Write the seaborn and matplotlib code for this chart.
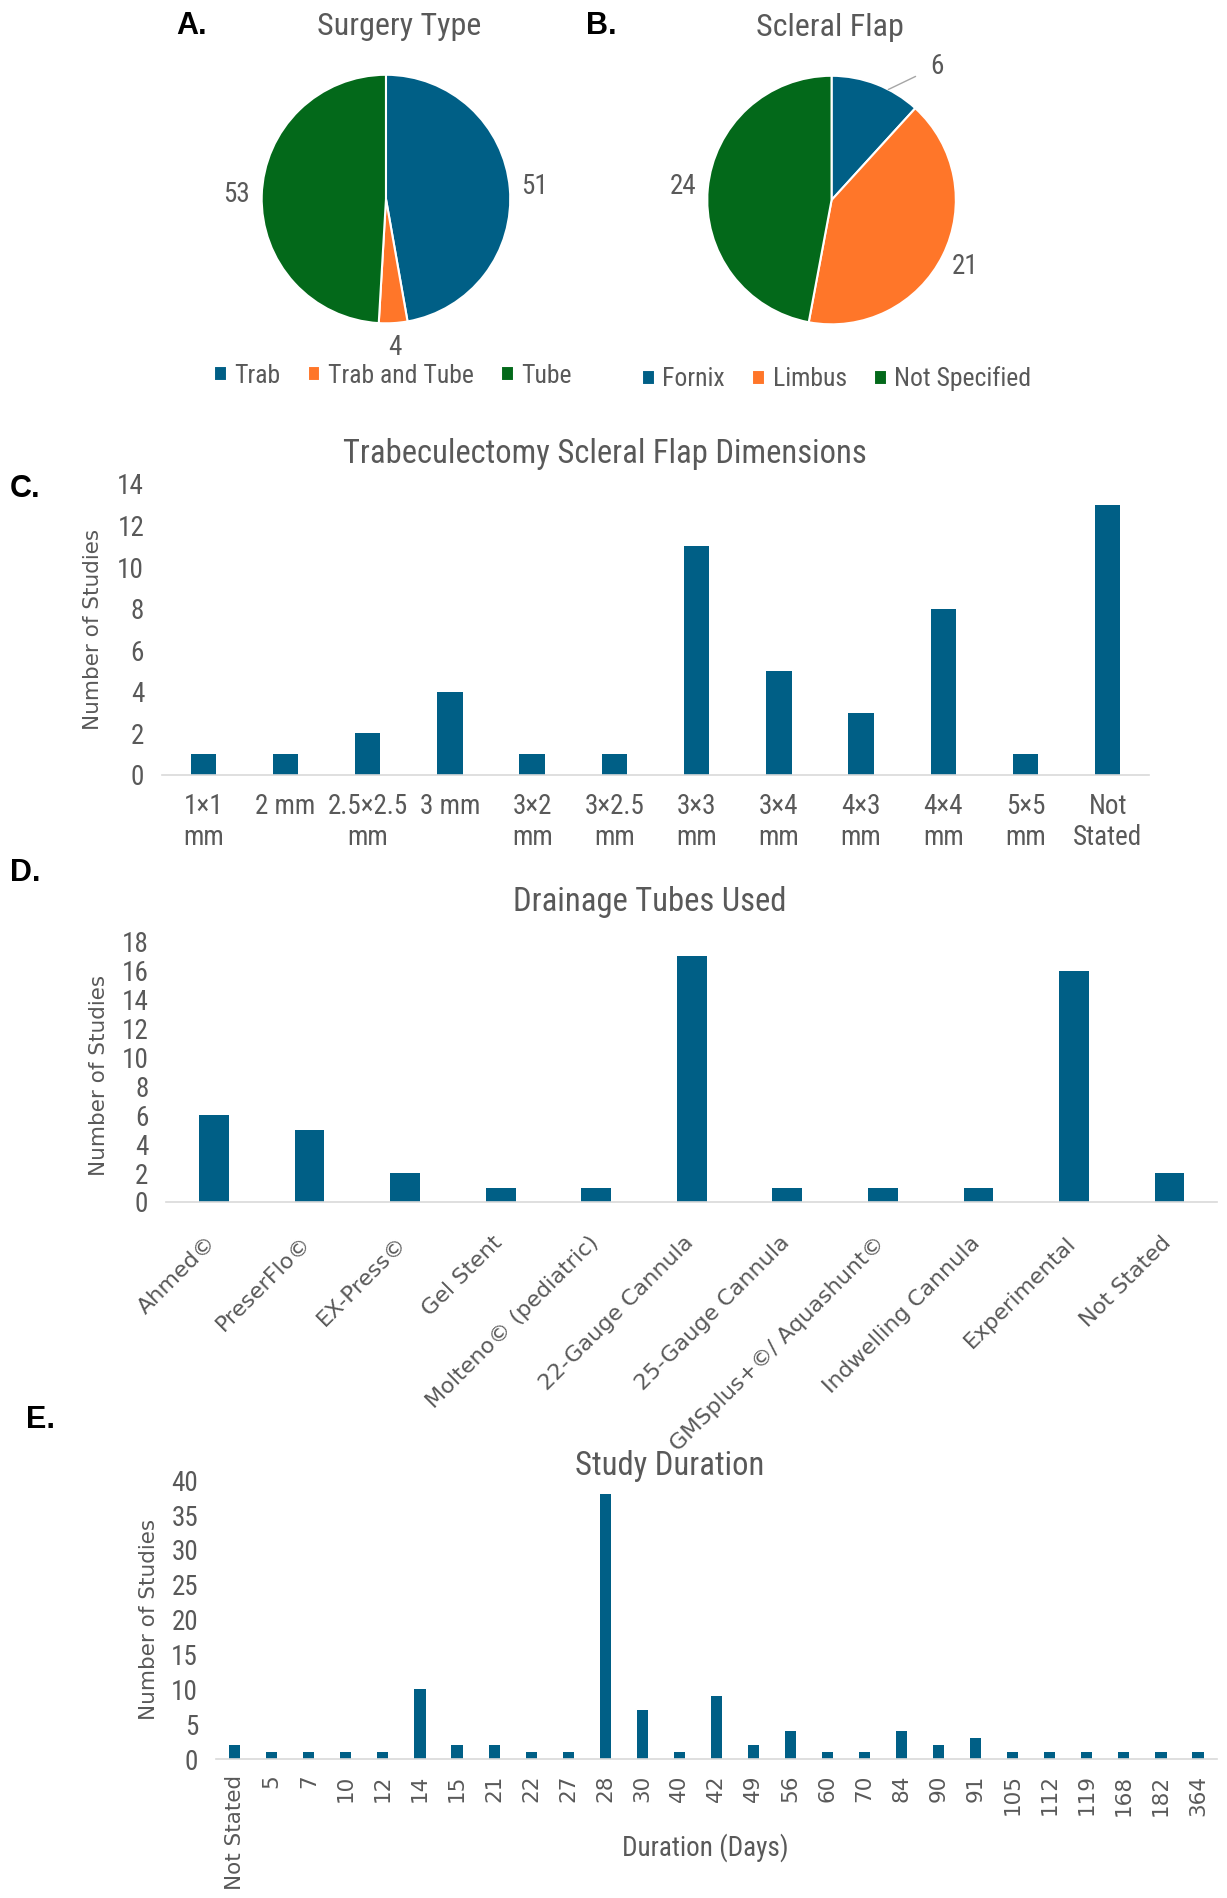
import numpy as np
import matplotlib
matplotlib.use("Agg")
import matplotlib.pyplot as plt
import matplotlib.transforms as mtransforms
import seaborn as sns

# pie A
surgery_labels = ["Trab", "Trab and Tube", "Tube"]
surgery_counts = [51, 4, 53]

# pie B
flap_labels = ["Fornix", "Limbus", "Not Specified"]
flap_counts = [6, 21, 24]

# bar C
dim_labels = ["1×1\nmm", "2 mm", "2.5×2.5\nmm", "3 mm", "3×2\nmm", "3×2.5\nmm",
              "3×3\nmm", "3×4\nmm", "4×3\nmm", "4×4\nmm", "5×5\nmm", "Not\nStated"]
dim_counts = [1, 1, 2, 4, 1, 1, 11, 5, 3, 8, 1, 13]

# bar D
tube_labels = ["Ahmed©", "PreserFlo©", "EX-Press©", "Gel Stent", "Molteno© (pediatric)",
               "22-Gauge Cannula", "25-Gauge Cannula", "GMSplus+©/ Aquashunt©",
               "Indwelling Cannula", "Experimental", "Not Stated"]
tube_counts = [6, 5, 2, 1, 1, 17, 1, 1, 1, 16, 2]

# bar E
duration_labels = ["Not Stated", "5", "7", "10", "12", "14", "15", "21", "22", "27", "28",
                   "30", "40", "42", "49", "56", "60", "70", "84", "90", "91", "105",
                   "112", "119", "168", "182", "364"]
duration_counts = [2, 1, 1, 1, 1, 10, 2, 2, 1, 1, 38, 7, 1, 9, 2, 4, 1, 1, 4, 2, 3,
                   1, 1, 1, 1, 1, 1]

BLUE = "#005f86"
ORANGE = "#ff7629"
GREEN = "#03691a"
GREY = "#595959"
AXLINE = "#d9d9d9"

sns.set_theme(style="white")
NARROW = ["Liberation Sans Narrow", "Roboto Condensed", "DejaVu Sans Condensed", "Roboto",
          "DejaVu Sans"]
WIDE = ["DejaVu Sans"]
plt.rcParams["font.family"] = NARROW
plt.rcParams["text.color"] = GREY

fig = plt.figure(figsize=(12.27, 18.98), dpi=100)
W, H = 1227.0, 1898.0
S = 1.0104  # layout measurements were taken on a slightly scaled view


def rect(left, top, right, bottom):
    return [left * S / W, 1 - bottom * S / H, (right - left) * S / W, (bottom - top) * S / H]


def fpos(x, y):
    return x * S / W, 1 - y * S / H


def pol(a, r):
    t = np.radians(90 - a)
    return r * np.cos(t), r * np.sin(t)


def draw_pie(ax, counts, colors):
    wedges, _ = ax.pie(counts, colors=colors, startangle=90, counterclock=False,
                       radius=1, wedgeprops=dict(edgecolor="white", linewidth=1.5))
    ax.set_xlim(-1, 1)
    ax.set_ylim(-1, 1)
    ax.set_aspect("equal")
    ax.axis("off")
    ends = np.cumsum(counts) / np.sum(counts) * 360
    starts = ends - np.array(counts) / np.sum(counts) * 360
    return wedges, (starts + ends) / 2


def pie_legend(ax, wedges, labels, cx, cy):
    ax.legend(wedges, labels, loc="center", bbox_to_anchor=fpos(cx, cy),
              bbox_transform=fig.transFigure, ncol=3, frameon=False, fontsize=18.5,
              handlelength=0.5, handleheight=0.5, handletextpad=0.3,
              columnspacing=1.05, labelcolor=GREY)


# ---- A
axA = fig.add_axes(rect(259, 74, 505, 320))
wA, midA = draw_pie(axA, surgery_counts, [BLUE, ORANGE, GREEN])
for m, v in zip(midA, surgery_counts):
    x, y = pol(m, 1.2)
    axA.text(x, y, str(v), ha="center", va="center", fontsize=19.5, color=GREY, clip_on=False)
pie_legend(axA, wA, surgery_labels, 389, 372)

# ---- B
axB = fig.add_axes(rect(700, 75, 946, 321))
wB, midB = draw_pie(axB, flap_counts, [BLUE, ORANGE, GREEN])
for i, (m, v) in enumerate(zip(midB, flap_counts)):
    if i == 0:
        axB.annotate(str(v), xy=pol(m + 6, 1.0), xytext=pol(m + 17, 1.37),
                     ha="center", va="center", fontsize=19.5, color=GREY,
                     arrowprops=dict(arrowstyle="-", color="#a6a6a6", lw=1,
                                     shrinkA=9, shrinkB=0), annotation_clip=False)
    else:
        x, y = pol(m, 1.2)
        axB.text(x, y, str(v), ha="center", va="center", fontsize=19.5, color=GREY, clip_on=False)
pie_legend(axB, wB, flap_labels, 828, 375)

fig.text(*fpos(395, 26), "Surgery Type", ha="center", va="center", fontsize=23, color=GREY)
fig.text(*fpos(821, 27), "Scleral Flap", ha="center", va="center", fontsize=23, color=GREY)

letter_kw = dict(ha="left", va="center", fontsize=22, fontweight="bold", color="black",
                 family=["Liberation Sans", "DejaVu Sans"])
fig.text(*fpos(174, 26), "A.", **letter_kw)
fig.text(*fpos(580, 26), "B.", **letter_kw)
fig.text(*fpos(10, 484), "C.", **letter_kw)
fig.text(*fpos(10, 864), "D.", **letter_kw)
fig.text(*fpos(26, 1405), "E.", **letter_kw)


def style_bar(ax, ymax, step):
    ax.set_ylim(0, ymax)
    ax.set_yticks(np.arange(0, ymax + 0.1, step))
    for s in ["top", "right", "left"]:
        ax.spines[s].set_visible(False)
    ax.spines["bottom"].set_color(AXLINE)
    ax.spines["bottom"].set_linewidth(1.2)
    ax.tick_params(axis="both", length=0, colors=GREY)
    ax.tick_params(axis="y", labelsize=19.5, pad=13)
    ax.set_xlabel("")
    ax.set_ylabel("")
    ax.grid(False)


ylab_kw = dict(rotation=90, ha="center", va="center", fontsize=15.5, color=GREY, family=WIDE)

# ---- C
axC = fig.add_axes(rect(160.5, 479, 1137, 767))
sns.barplot(x=dim_labels, y=dim_counts, order=dim_labels, color=BLUE, saturation=1,
            width=0.31, linewidth=0, ax=axC)
axC.set_xlim(-0.5, len(dim_labels) - 0.5)
style_bar(axC, 14, 2)
axC.tick_params(axis="x", labelsize=19.5, pad=13)
for t in axC.get_xticklabels():
    t.set_linespacing(1.2)
fig.text(*fpos(599, 449), "Trabeculectomy Scleral Flap Dimensions", ha="center",
         va="center", fontsize=23.5, color=GREY)
fig.text(*fpos(92, 623), "Number of Studies", **ylab_kw)

# ---- D
axD = fig.add_axes(rect(164.7, 932, 1204.6, 1189.6))
sns.barplot(x=tube_labels, y=tube_counts, order=tube_labels, color=BLUE, saturation=1,
            width=0.31, linewidth=0, ax=axD)
axD.set_xlim(-0.5, len(tube_labels) - 0.5)
style_bar(axD, 18, 2)
axD.set_xticks(range(len(tube_labels)))
axD.set_xticklabels(tube_labels, rotation=45, ha="right", rotation_mode="anchor",
                    fontsize=16, family=WIDE, color=GREY)
axD.tick_params(axis="x", pad=22)
shift = mtransforms.ScaledTranslation(-6 / 72, 0, fig.dpi_scale_trans)
for t in axD.get_xticklabels():
    t.set_transform(t.get_transform() + shift)
fig.text(*fpos(643, 893), "Drainage Tubes Used", ha="center", va="center",
         fontsize=23.5, color=GREY)
fig.text(*fpos(98, 1064), "Number of Studies", **ylab_kw)

# ---- E
axE = fig.add_axes(rect(214, 1465, 1204, 1741))
sns.barplot(x=duration_labels, y=duration_counts, order=duration_labels, color=BLUE,
            saturation=1, width=0.3, linewidth=0, ax=axE)
axE.set_xlim(-0.5, len(duration_labels) - 0.5)
style_bar(axE, 40, 5)
axE.set_xticks(range(len(duration_labels)))
axE.set_xticklabels(duration_labels, rotation=90, ha="center", va="top",
                    fontsize=15.5, family=WIDE, color=GREY)
axE.tick_params(axis="x", pad=11)
fig.text(*fpos(663, 1451), "Study Duration", ha="center", va="center",
         fontsize=23.5, color=GREY)
fig.text(*fpos(147, 1603), "Number of Studies", **ylab_kw)
fig.text(*fpos(698, 1829), "Duration (Days)", ha="center", va="center",
         fontsize=19.5, color=GREY)

fig.savefig("out.png", dpi=100)
